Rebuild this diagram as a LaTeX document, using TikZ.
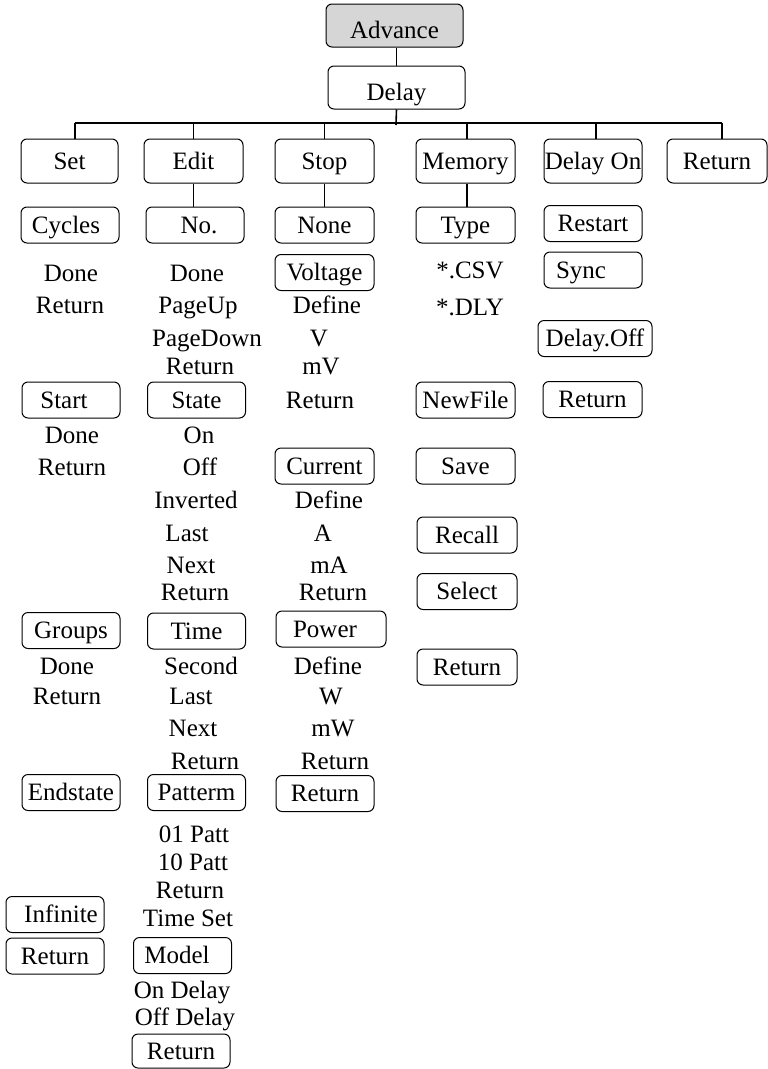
\documentclass[tikz,border=0pt]{standalone}
\usepackage{fontspec}
\setmainfont{Liberation Serif}
\definecolor{advgray}{HTML}{D6D6D6}
\begin{document}
\begin{tikzpicture}[x=1pt,y=-1pt,
  lbl/.style={font=\fontsize{25}{30}\selectfont},
  box/.style={lbl,draw,rounded corners=6pt,line width=1pt,inner sep=0pt,
     minimum width=98pt,minimum height=36pt,text height=16.5pt,text depth=0pt},
  topbox/.style={box,minimum width=137pt,minimum height=43pt,text height=26pt},
  lvlbox/.style={box,minimum height=44pt},
  txt/.style={lbl,inner sep=0pt,text height=16.5pt,text depth=0pt},
  conn/.style={line width=1.6pt}]
\useasboundingbox (0,0) rectangle (768,1069);

% top
\node[topbox,fill=advgray] (adv) at (394.5,25.5) {Advance};
\node[topbox] (delay) at (396.5,87.5) {Delay};
\coordinate (bus) at (396,123);

% level 1
\node[lvlbox,minimum width=97pt] (set) at (69.5,161) {Set};
\node[lvlbox,minimum width=99pt] (edit) at (193.5,161) {Edit};
\node[lvlbox,minimum width=99pt] (stop) at (324.5,161) {Stop};
\node[lvlbox,minimum width=99pt] (mem) at (465.5,161) {Memory};
\node[lvlbox] (don) at (593,161) {Delay On};
\node[lvlbox,minimum width=100pt] (ret0) at (717,161) {Return};

% connectors top
\draw[conn] (delay.north) -- (delay.north |- adv.south);
\draw[conn] (delay.south) -- ([yshift=-2pt]bus);
\draw[conn] ([xshift=5.5pt]set.north |- bus) -- ([xshift=5pt]ret0.north |- bus);
\draw[conn] ([xshift=5.5pt]set.north) -- ([xshift=5.5pt]set.north |- bus);
\draw[conn] (edit.north) -- (edit.north |- bus);
\draw[conn] (stop.north) -- (stop.north |- bus);
\draw[conn] ([xshift=1.5pt]mem.north) -- ([xshift=1.5pt]mem.north |- bus);
\draw[conn] ([xshift=3pt]don.north) -- ([xshift=3pt]don.north |- bus);
\draw[conn] ([xshift=5pt]ret0.north) -- ([xshift=5pt]ret0.north |- bus);

% ---- Set column
\node[box] (cycles) at (70,225) {Cycles\hspace*{8pt}};
\node[txt] (s1) at (71,273) {Done};
\node[txt] (s2) at (70,305) {Return};
\node[box] (start) at (71,400) {Start\hspace*{14pt}};
\node[txt] (s3) at (72,435) {Done};
\node[txt] (s4) at (72,467) {Return};
\node[box] (groups) at (71,630.5) {Groups};
\node[txt] (s5) at (67,666) {Done};
\node[txt] (s6) at (67,696) {Return};
\node[box] (endst) at (71,792.5) {Endstate};
\node[box] (infin) at (55,914.5) {\hspace*{12pt}Infinite};
\node[box] (sret) at (55,956) {Return};

% ---- Edit column
\node[box] (no) at (195,225) {\hspace*{8pt}No.};
\draw[conn] (edit.south) -- (edit.south |- no.north);
\node[txt] (e1) at (197,273) {Done};
\node[txt] (e2) at (198,305) {PageUp};
\node[txt] (e3) at (207,338) {PageDown};
\node[txt] (e4) at (200,366) {Return};
\node[box] (state) at (196.5,400) {State};
\node[txt] (e5) at (199,435) {On};
\node[txt] (e6) at (200,467) {Off};
\node[txt] (e7) at (196,500) {Inverted};
\node[txt] (e8) at (187,533) {Last};
\node[txt] (e9) at (191,565) {Next};
\node[txt] (e10) at (195,592) {Return};
\node[box] (time) at (196.5,631) {Time};
\node[txt] (e11) at (201,666) {Second};
\node[txt] (e12) at (191,696) {Last};
\node[txt] (e13) at (193,728) {Next};
\node[txt] (e14) at (205,761) {Return};
\node[box] (patt) at (196.5,792.5) {Patterm};
\node[txt] (e15) at (194,834) {01 Patt};
\node[txt] (e16) at (193,862) {10 Patt};
\node[txt] (e17) at (190,890) {Return};
\node[txt] (e18) at (188,918) {Time Set};
\node[box] (model) at (182.5,955.5) {Model\hspace*{11pt}};
\node[txt] (e19) at (182,990) {On Delay};
\node[txt] (e20) at (185,1017) {Off Delay};
\node[box,minimum height=34pt] (eret) at (181,1051) {Return};

% ---- Stop column
\node[box,minimum width=99pt] (none) at (324.5,225) {None};
\draw[conn] (stop.south) -- (stop.south |- none.north);
\node[box,minimum width=99pt] (volt) at (324.5,272.5) {Voltage};
\node[txt] (t1) at (327,305) {Define};
\node[txt] (t2) at (319,338) {V};
\node[txt] (t3) at (321,366) {mV};
\node[txt] (t4) at (320,400) {Return};
\node[box,minimum width=99pt] (curr) at (324.5,466) {Current};
\node[txt] (t5) at (329,500) {Define};
\node[txt] (t6) at (323,533) {A};
\node[txt] (t7) at (329,565) {mA};
\node[txt] (t8) at (333,592) {Return};
\node[box,minimum width=110pt] (power) at (331,629) {Power\hspace*{12pt}};
\node[txt] (t9) at (328,666) {Define};
\node[txt] (t10) at (331,696) {W};
\node[txt] (t11) at (333,728) {mW};
\node[txt] (t12) at (335,761) {Return};
\node[box] (tret) at (325,793.5) {Return};

% ---- Memory column
\node[box,minimum width=99pt] (type) at (465.5,225) {Type};
\draw[conn] ([xshift=1.5pt]mem.south) -- ([xshift=1.5pt]mem.south |- type.north);
\node[txt] (m1) at (470,270) {*.CSV};
\node[txt] (m2) at (470,307) {*.DLY};
\node[box,minimum width=99pt] (newf) at (465.5,400) {NewFile};
\node[box,minimum width=99pt] (save) at (465.5,466) {Save};
\node[box,minimum width=100pt] (recall) at (467,535) {Recall};
\node[box,minimum width=100pt] (select) at (467,591.5) {Select};
\node[box,minimum width=100pt] (mret) at (467,667) {Return};

% ---- Delay On column
\node[box] (restart) at (593,223.5) {Restart};
\node[box] (sync) at (593,270) {Sync\hspace*{24pt}};
\node[box,minimum width=114pt] (doff) at (595,338.5) {Delay.Off};
\node[box,minimum width=99pt] (dret) at (592.5,399.5) {Return};
\end{tikzpicture}
\end{document}
